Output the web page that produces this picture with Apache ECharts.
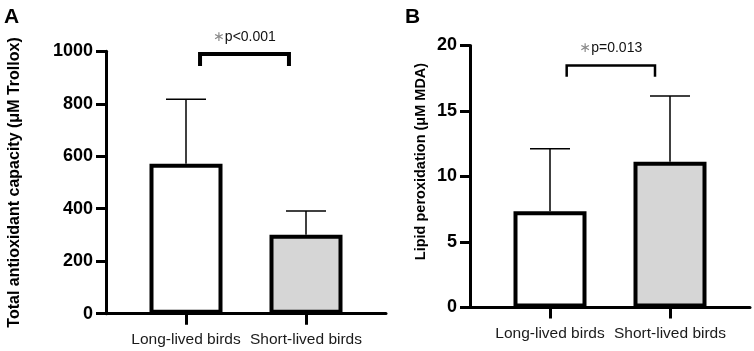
<!DOCTYPE html>
<html>
<head>
<meta charset="utf-8">
<script src="https://cdn.jsdelivr.net/npm/echarts@6/dist/echarts.min.js"></script>
<style>
html, body { margin: 0; padding: 0; background: #fff; }
#chart { width: 754px; height: 351px; }
</style>
</head>
<body>
<div id="chart"></div>
<script>
// ---- data ----
const categories = ["Long-lived birds", "Short-lived birds"];
const categoryPos = [1, 2];

const capacityMean = [571, 301];
const capacityUpper = [817, 391];      // mean + SD
const capacityTicks = [0, 200, 400, 600, 800, 1000];
const capacityBracket = [1.117, 1.858, 990, 944];   // x from, x to, top, drop
const capacityP = "p<0.001";

const peroxMean = [7.35, 11.13];
const peroxUpper = [12.12, 16.15];
const peroxTicks = [0, 5, 10, 15, 20];
const peroxBracket = [1.139, 1.875, 18.47, 17.62];
const peroxP = "p=0.013";

const barFills = ["#ffffff", "#d6d6d6"];

const FONT = "'Liberation Sans', Arial, sans-serif";

const chart = echarts.init(document.getElementById("chart"));

function barData(means) {
    return means.map((v, i) => ({
        value: [categoryPos[i], v],
        itemStyle: { color: barFills[i] }
    }));
}

function errData(means, uppers) {
    return means.map((v, i) => [categoryPos[i], v, uppers[i]]);
}

function renderError(params, api) {
    const x = api.value(0);
    const base = api.coord([x, api.value(1)]);
    const top = api.coord([x, api.value(2)]);
    const half = 20;
    const st = { stroke: "#000", lineWidth: 1.5 };
    return {
        type: "group",
        children: [
            { type: "line", shape: { x1: base[0], y1: base[1], x2: top[0], y2: top[1] }, style: st },
            { type: "line", shape: { x1: top[0] - half, y1: top[1], x2: top[0] + half, y2: top[1] }, style: st }
        ]
    };
}

function makeBracket(lineWidth, ptext) {
    return function (params, api) {
        const a = api.coord([api.value(0), api.value(3)]);
        const b = api.coord([api.value(0), api.value(2)]);
        const c = api.coord([api.value(1), api.value(2)]);
        const d = api.coord([api.value(1), api.value(3)]);
        return {
            type: "group",
            children: [
                {
                    type: "polyline",
                    shape: { points: [a, b, c, d] },
                    style: { stroke: "#000", lineWidth: lineWidth, fill: null, lineJoin: "miter" }
                },
                {
                    type: "text",
                    x: (b[0] + c[0]) / 2,
                    y: b[1] - 17,
                    style: {
                        text: "{s|\u2217}{t|" + ptext + "}",
                        align: "center",
                        verticalAlign: "middle",
                        rich: {
                            s: { fill: "#8a8a8a", fontSize: 14, fontFamily: "'DejaVu Sans', sans-serif" },
                            t: { fill: "#111", fontSize: 14, fontFamily: FONT }
                        }
                    }
                }
            ]
        };
    };
}

function xAxisFor(gridIndex) {
    return {
        type: "value",
        gridIndex: gridIndex,
        min: 1 / 3,
        max: 8 / 3,
        splitLine: { show: false },
        axisLine: { show: true, lineStyle: { color: "#000", width: 3 } },
        axisTick: { show: true, customValues: categoryPos, length: 11, lineStyle: { color: "#000", width: 3 } },
        axisLabel: {
            customValues: categoryPos,
            formatter: v => categories[Math.round(v) - 1],
            color: "#1a1a1a",
            fontSize: 15.5,
            fontFamily: FONT,
            margin: 18
        }
    };
}

function yAxisFor(gridIndex, ticks, name, nameSize, nameGap, shift) {
    return {
        type: "value",
        gridIndex: gridIndex,
        min: ticks[0],
        max: ticks[ticks.length - 1],
        interval: ticks[1] - ticks[0],
        splitLine: { show: false },
        axisLine: { show: true, lineStyle: { color: "#000", width: 3 } },
        axisTick: { show: true, length: 10, lineStyle: { color: "#000", width: 3 } },
        axisLabel: {
            color: "#000",
            fontSize: 18,
            fontWeight: "bold",
            fontFamily: FONT,
            margin: 13,
            formatter: v => String(v)
        },
        name: name,
        nameLocation: "middle",
        nameGap: nameGap,
        nameTextStyle: {
            color: "#000",
            fontSize: nameSize,
            fontWeight: "bold",
            fontFamily: FONT,
            padding: [0, 0, 0, shift]
        }
    };
}

chart.setOption({
    backgroundColor: "#fff",
    animation: false,

    title: [
        { text: "A", left: 4, top: 7, padding: 0, textStyle: { fontSize: 21, fontWeight: "bold", fontFamily: FONT, color: "#000" } },
        { text: "B", left: 405, top: 7, padding: 0, textStyle: { fontSize: 21, fontWeight: "bold", fontFamily: FONT, color: "#000" } }
    ],

    // =========================
    // two panels side by side
    // =========================
    grid: [
        { left: 106, top: 51.3, width: 280, height: 262.4 },
        { left: 470, top: 45.5, width: 280, height: 262 }
    ],

    xAxis: [xAxisFor(0), xAxisFor(1)],

    yAxis: [
        yAxisFor(0, capacityTicks, "Total antioxidant capacity (\u03bcM Trollox)", 16, 83, 0),
        yAxisFor(1, peroxTicks, "Lipid peroxidation (\u03bcM MDA)", 14.5, 42, 30)
    ],

    series: [
        // ---- panel A ----
        {
            type: "custom",
            xAxisIndex: 0, yAxisIndex: 0,
            renderItem: renderError,
            data: errData(capacityMean, capacityUpper),
            z: 1
        },
        {
            type: "bar",
            xAxisIndex: 0, yAxisIndex: 0,
            data: barData(capacityMean),
            barWidth: 73,
            itemStyle: { borderColor: "#000", borderWidth: 4 },
            z: 2
        },
        {
            type: "custom",
            xAxisIndex: 0, yAxisIndex: 0,
            renderItem: makeBracket(4, capacityP),
            data: [capacityBracket],
            z: 3
        },

        // ---- panel B ----
        {
            type: "custom",
            xAxisIndex: 1, yAxisIndex: 1,
            renderItem: renderError,
            data: errData(peroxMean, peroxUpper),
            z: 1
        },
        {
            type: "bar",
            xAxisIndex: 1, yAxisIndex: 1,
            data: barData(peroxMean),
            barWidth: 73,
            itemStyle: { borderColor: "#000", borderWidth: 4 },
            z: 2
        },
        {
            type: "custom",
            xAxisIndex: 1, yAxisIndex: 1,
            renderItem: makeBracket(2.5, peroxP),
            data: [peroxBracket],
            z: 3
        }
    ]
});
</script>
</body>
</html>
